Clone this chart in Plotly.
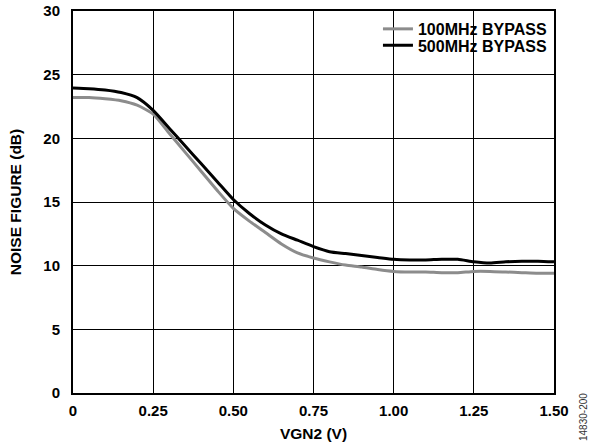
import plotly.graph_objects as go

vgn2 = [0.00, 0.05, 0.10, 0.15, 0.20, 0.25, 0.30, 0.35, 0.40, 0.45, 0.50,
        0.55, 0.60, 0.65, 0.70, 0.75, 0.80, 0.85, 0.90, 0.95, 1.00,
        1.05, 1.10, 1.15, 1.20, 1.25, 1.30, 1.35, 1.40, 1.45, 1.50]

nf_100mhz = [23.2, 23.2, 23.1, 22.95, 22.6, 21.9, 20.4, 18.9, 17.4, 15.9, 14.5,
             13.5, 12.6, 11.7, 11.0, 10.6, 10.3, 10.05, 9.9, 9.7, 9.55,
             9.5, 9.5, 9.45, 9.45, 9.55, 9.55, 9.5, 9.45, 9.4, 9.4]

nf_500mhz = [23.95, 23.9, 23.8, 23.6, 23.2, 22.2, 20.8, 19.4, 18.0, 16.6, 15.2,
             14.1, 13.2, 12.5, 12.0, 11.5, 11.1, 10.95, 10.8, 10.65, 10.5,
             10.45, 10.45, 10.5, 10.5, 10.3, 10.2, 10.3, 10.35, 10.35, 10.3]

x_ticks = [0, 0.25, 0.50, 0.75, 1.00, 1.25, 1.50]
x_tick_labels = ["0", "0.25", "0.50", "0.75", "1.00", "1.25", "1.50"]
y_ticks = [0, 5, 10, 15, 20, 25, 30]

FONT = "Arial, Liberation Sans, sans-serif"

fig = go.Figure()
fig.add_trace(go.Scatter(x=vgn2, y=nf_100mhz, mode="lines", name="<b>100MHz BYPASS</b>",
                         legend="legend",
                         line=dict(color="#8c8c8c", width=3, shape="spline", smoothing=0.6)))
fig.add_trace(go.Scatter(x=vgn2, y=nf_500mhz, mode="lines", name="<b>500MHz BYPASS</b>",
                         legend="legend2",
                         line=dict(color="#000000", width=3, shape="spline", smoothing=0.6)))

fig.add_shape(type="rect", xref="paper", yref="paper", x0=0.63, x1=0.998, y0=0.862, y1=0.997,
              fillcolor="white", line=dict(width=0), layer="between")

fig.add_annotation(text="14830-200", xref="paper", yref="paper", x=1.0, y=0.0,
                   xanchor="center", yanchor="middle",
                   xshift=29, yshift=-24, textangle=-90, showarrow=False,
                   font=dict(family=FONT, size=10, color="#333333"))

axis_common = dict(showgrid=True, gridcolor="black", gridwidth=1, zeroline=False,
                   showline=True, linecolor="black", linewidth=2, mirror=True,
                   ticks="", tickfont=dict(family=FONT, size=15, color="black"),
                   automargin=False, ticklabeloverflow="allow")

fig.update_xaxes(range=[0, 1.5], tickvals=x_ticks, ticktext=["<b>%s</b>" % t for t in x_tick_labels],
                 title=dict(text="<b>VGN2 (V)</b>", font=dict(family=FONT, size=15.5, color="black"), standoff=10),
                 ticklabelstandoff=3, **axis_common)
fig.update_yaxes(range=[0, 30], tickvals=y_ticks, ticktext=["<b>%d</b>" % t for t in y_ticks],
                 title=dict(text="<b>NOISE FIGURE (dB)</b>", font=dict(family=FONT, size=15.5, color="black"), standoff=18),
                 ticklabelstandoff=8, **axis_common)

legend_common = dict(xanchor="left", yanchor="middle", bgcolor="rgba(0,0,0,0)",
                     font=dict(family=FONT, size=16, color="black"), itemwidth=30)

fig.update_layout(
    width=592, height=444,
    margin=dict(l=73, r=38, t=11, b=51, autoexpand=False),
    plot_bgcolor="white", paper_bgcolor="white",
    font=dict(family=FONT, color="black"),
    legend=dict(x=0.634, y=0.953, **legend_common),
    legend2=dict(x=0.634, y=0.910, **legend_common),
    showlegend=True,
)

fig.write_html("out.html",
               config={"displayModeBar": False},
               post_script="document.body.style.margin='0';document.body.style.overflow='hidden';")
